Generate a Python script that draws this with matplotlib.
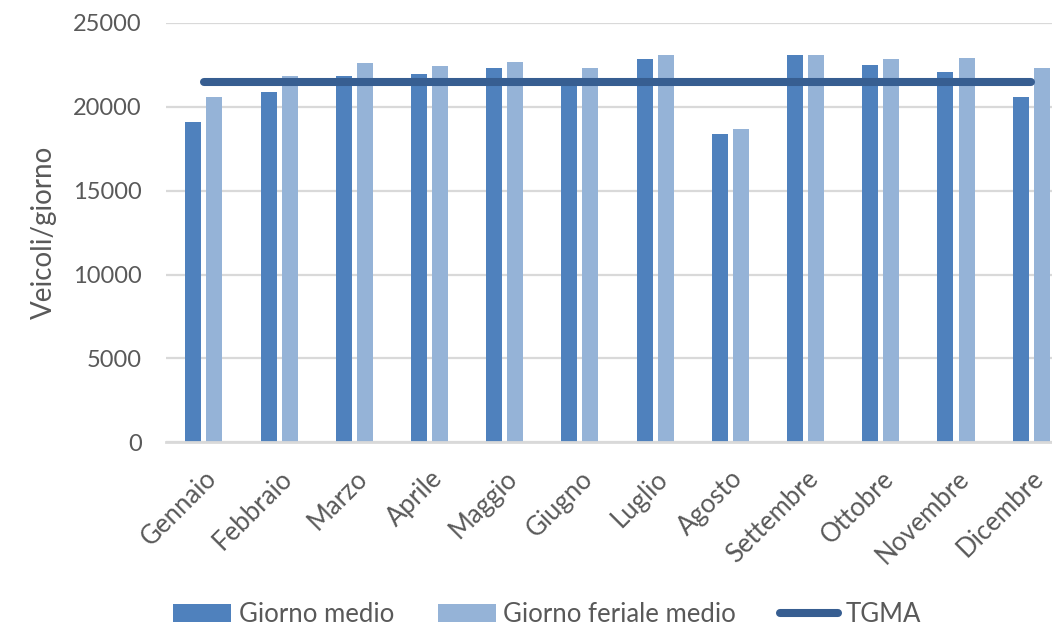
import matplotlib
matplotlib.use("Agg")
import matplotlib.pyplot as plt
import numpy as np

plt.rcParams['font.family'] = ['Lato', 'DejaVu Sans']

mesi = ['Gennaio', 'Febbraio', 'Marzo', 'Aprile', 'Maggio', 'Giugno',
        'Luglio', 'Agosto', 'Settembre', 'Ottobre', 'Novembre', 'Dicembre']
giorno_medio = [19100, 20900, 21850, 21950, 22300, 21400,
                22850, 18400, 23100, 22500, 22050, 20600]
giorno_feriale = [20600, 21800, 22600, 22400, 22650, 22300,
                  23100, 18700, 23050, 22850, 22900, 22300]
tgma = [21450] * 12
yticks = [0, 5000, 10000, 15000, 20000, 25000]

grey = '#595959'
fig = plt.figure(figsize=(10.52, 6.32), dpi=100)
# the chart area runs past the right edge of the picture, as in the original
ax = fig.add_axes([0.158, 0.300, 0.858, 0.664])

x = np.arange(len(mesi))
w = 0.213
b1 = ax.bar(x - 0.14, giorno_medio, w, color='#4F81BD', label='Giorno medio', zorder=2)
b2 = ax.bar(x + 0.14, giorno_feriale, w, color='#95B3D7', label='Giorno feriale medio', zorder=2)
l1, = ax.plot(x, tgma, color='#375E91', lw=5.8, solid_capstyle='round', label='TGMA', zorder=3)

ax.set_xlim(-0.5, len(mesi) - 0.5)
ax.set_ylim(0, 25000)
ax.set_yticks(yticks)
ax.set_yticklabels([str(v) for v in yticks])
ax.yaxis.grid(True, color='#d9d9d9', lw=1.6, zorder=0)
ax.set_axisbelow(True)
for s in ['top', 'right', 'left']:
    ax.spines[s].set_visible(False)
ax.spines['bottom'].set_color('#d9d9d9')
ax.spines['bottom'].set_linewidth(2)
ax.tick_params(axis='both', length=0, colors=grey, labelsize=17)
ax.tick_params(axis='y', pad=17.5)
ax.set_xticks(x)
ax.set_xticklabels(mesi, rotation=45, ha='right', rotation_mode='anchor', fontsize=18.5)
ax.tick_params(axis='x', pad=17)
ax.set_ylabel('Veicoli/giorno', fontsize=20, color=grey, labelpad=12)

fig.legend(handles=[b1, b2, l1], loc='center', bbox_to_anchor=(0.52, 0.028), ncol=3,
           frameon=False, fontsize=18.5, labelcolor=grey, handlelength=2.26,
           handletextpad=0.3, columnspacing=1.7)

fig.savefig('out.png', dpi=100)
